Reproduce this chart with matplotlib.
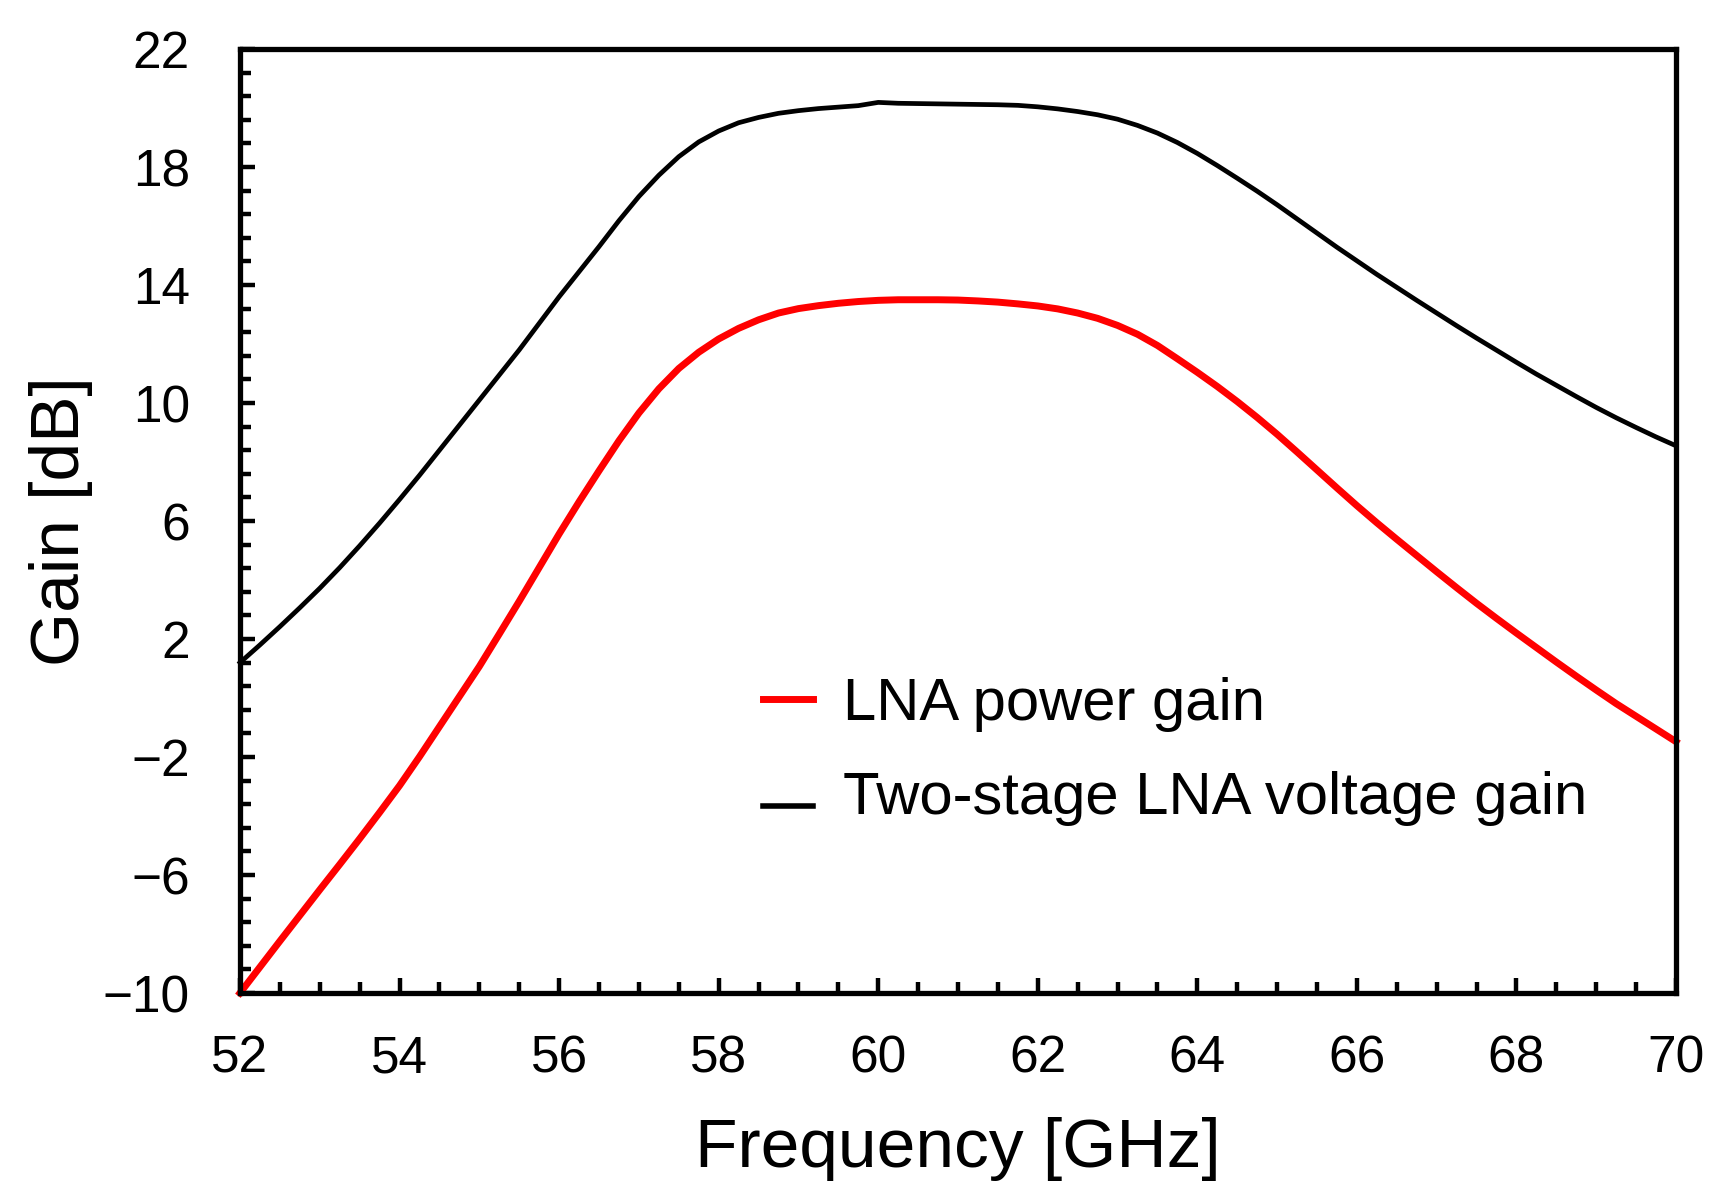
import matplotlib
matplotlib.use("Agg")
import matplotlib.pyplot as plt
import numpy as np

plt.rcParams['font.family'] = ['Liberation Sans', 'DejaVu Sans']

freq = [52.00, 52.25, 52.50, 52.75, 53.00, 53.25, 53.50, 53.75, 54.00, 54.25,
        54.50, 54.75, 55.00, 55.25, 55.50, 55.75, 56.00, 56.25, 56.50, 56.75,
        57.00, 57.25, 57.50, 57.75, 58.00, 58.25, 58.50, 58.75, 59.00, 59.25,
        59.50, 59.75, 60.00, 60.25, 60.50, 60.75, 61.00, 61.25, 61.50, 61.75,
        62.00, 62.25, 62.50, 62.75, 63.00, 63.25, 63.50, 63.75, 64.00, 64.25,
        64.50, 64.75, 65.00, 65.25, 65.50, 65.75, 66.00, 66.25, 66.50, 66.75,
        67.00, 67.25, 67.50, 67.75, 68.00, 68.25, 68.50, 68.75, 69.00, 69.25,
        69.50, 69.75, 70.00]

# two-stage LNA voltage gain (black)
volt_gain = [1.20, 1.80, 2.42, 3.06, 3.72, 4.42, 5.16, 5.93, 6.73, 7.55,
             8.40, 9.25, 10.10, 10.95, 11.80, 12.70, 13.60, 14.45, 15.30, 16.18,
             17.00, 17.72, 18.35, 18.85, 19.22, 19.50, 19.68, 19.82, 19.91, 19.98,
             20.03, 20.08, 20.19, 20.16, 20.15, 20.14, 20.13, 20.12, 20.11, 20.09,
             20.04, 19.97, 19.88, 19.77, 19.62, 19.41, 19.15, 18.83, 18.46, 18.05,
             17.62, 17.18, 16.72, 16.24, 15.76, 15.28, 14.82, 14.36, 13.92, 13.48,
             13.05, 12.62, 12.20, 11.79, 11.38, 10.98, 10.60, 10.22, 9.85, 9.50,
             9.17, 8.85, 8.55]

# LNA power gain (red)
power_gain = [-10.0, -9.12, -8.24, -7.37, -6.50, -5.64, -4.77, -3.88, -2.97, -1.99,
              -0.97, 0.05, 1.07, 2.17, 3.28, 4.42, 5.56, 6.65, 7.70, 8.72,
              9.66, 10.48, 11.17, 11.72, 12.17, 12.53, 12.82, 13.05, 13.20, 13.30,
              13.38, 13.44, 13.48, 13.50, 13.50, 13.50, 13.49, 13.46, 13.42, 13.36,
              13.29, 13.19, 13.05, 12.87, 12.63, 12.33, 11.95, 11.50, 11.04, 10.56,
              10.05, 9.51, 8.94, 8.34, 7.73, 7.12, 6.52, 5.94, 5.38, 4.83,
              4.28, 3.74, 3.21, 2.70, 2.20, 1.71, 1.22, 0.74, 0.27, -0.19,
              -0.62, -1.05, -1.48]

labels = ["LNA power gain", "Two-stage LNA voltage gain"]

fig = plt.figure(figsize=(17.28, 12), dpi=100)
ax = fig.add_axes([240/1728, 1 - 993/1200, 1436/1728, 944/1200])

ax.plot(freq, power_gain, color='#ff0000', lw=5.0, label=labels[0], clip_on=False)
ax.plot(freq, volt_gain, color='black', lw=3.4, label=labels[1], clip_on=False)

ax.set_xlim(52, 70)
ax.set_ylim(-10, 22)
ax.set_xticks(np.arange(52, 70.1, 2))
ax.set_xticks(np.arange(52, 70.01, 0.5), minor=True)
ax.set_yticks(np.arange(-10, 22.1, 4))
ax.set_yticks(np.arange(-10, 22.01, 0.8), minor=True)

for s in ax.spines.values():
    s.set_linewidth(3.8)

ax.tick_params(which='both', direction='in', top=False, right=False, width=3.2)
ax.tick_params(which='major', length=11, labelsize=37)
ax.tick_params(which='minor', length=8)
ax.tick_params(axis='y', which='major', pad=36)
ax.tick_params(axis='x', which='major', pad=30)

ax.set_xlabel("Frequency [GHz]", fontsize=50, labelpad=24)
ax.set_ylabel("Gain [dB]", fontsize=50, labelpad=7)

leg = ax.legend(loc='upper left', bbox_to_anchor=(0.364, 0.335), frameon=False,
                fontsize=43, handlelength=0.85, handletextpad=0.5,
                labelspacing=0.66, borderpad=0, borderaxespad=0)
red_h, black_h = leg.get_lines()
red_h.set_linewidth(5.0)
black_h.set_linewidth(4.0)
# black handle sits a little below its text in the original
black_h.set_ydata(np.asarray(black_h.get_ydata()) - 9)

fig.savefig("out.png", dpi=100)
